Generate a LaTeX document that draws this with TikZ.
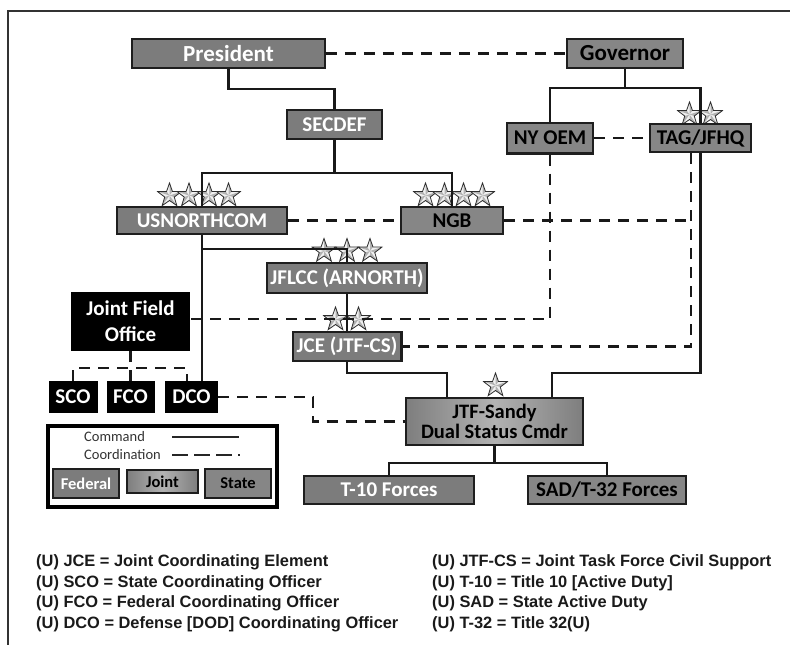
\documentclass[tikz,border=0pt]{standalone}
\usepackage{fontspec}
\setmainfont{Carlito}
\newfontfamily\lsans{Liberation Sans}
\definecolor{bline}{HTML}{1E1E1E}
\definecolor{fedg}{HTML}{7C7C7C}
\definecolor{stg}{HTML}{868686}
\definecolor{jlight}{HTML}{B2B2B2}
\definecolor{jdark}{HTML}{7E7E7E}
\definecolor{txt}{HTML}{1A1A1A}
\tikzset{
  basebox/.style={draw=bline, line width=2.4pt, inner sep=0pt, align=center,
    font=\bfseries\fontsize{21}{20}\selectfont},
  sz/.style 2 args={minimum width=#1pt, minimum height=#2pt},
  fedbox/.style={basebox, fill=fedg, text=white},
  statebox/.style={basebox, fill=stg, text=black},
  jointbox/.style={basebox, left color=jdark, right color=jdark, middle color=jlight, text=black},
  blackbox/.style={basebox, draw=black, fill=black, text=white},
  cmd/.style={line width=2.6pt, color=black!90},
  crd/.style={line width=2.8pt, color=black!90, dash pattern=on 11pt off 8pt},
  legtext/.style={anchor=west, inner sep=0pt, text=black!80, font=\fontsize{14.5}{15}\selectfont},
  legbox/.style={line width=2pt, font=\bfseries\fontsize{16.5}{17}\selectfont},
  note/.style={anchor=base west, inner sep=0pt, text=txt, font=\lsans\bfseries\fontsize{16.4}{18}\selectfont},
  pstar/.pic={
    \fill[gray!12] (-90:12.5) -- (-54:5) -- (-18:12.5) -- (18:5) -- (54:12.5) -- (90:5)
      -- (126:12.5) -- (162:5) -- (198:12.5) -- (234:5) -- cycle;
    \foreach \a in {-90,-18,54,126,198}
      \fill[gray!60] (0,0) -- (\a:12.5) -- ({\a+36}:5) -- cycle;
    \draw[gray!35!black, line width=0.8pt, line join=miter] (-90:12.5) -- (-54:5) -- (-18:12.5)
      -- (18:5) -- (54:12.5) -- (90:5) -- (126:12.5) -- (162:5) -- (198:12.5) -- (234:5) -- cycle;
  }
}
\begin{document}
\begin{tikzpicture}[x=1pt,y=-1pt]
\useasboundingbox (0,0) rectangle (790,645);
\fill[white] (0,0) rectangle (790,645);
% frame
\draw[line width=1.6pt, black!80] (8,645) -- (8,11) -- (790,11);

% stars
\foreach \x in {169.5,189,209,228.5} \pic at (\x,195.5) {pstar};
\foreach \x in {425.5,444.5,463.5,482.5} \pic at (\x,195.5) {pstar};
\foreach \x in {689.5,710.5} \pic at (\x,114.5) {pstar};
\foreach \x in {324,347,370} \pic at (\x,251) {pstar};
\foreach \x in {335.5,358.5} \pic at (\x,319.5) {pstar};
\pic at (495.5,385.5) {pstar};

% boxes
\node[fedbox, sz={192.5}{28.5}, font=\bfseries\fontsize{23}{23}\selectfont] (pres) at (228.5,53.5) {President};
\node[statebox, sz={115.6}{28.5}, font=\bfseries\fontsize{23}{23}\selectfont] (gov) at (625,53.5) {Governor};
\node[fedbox, sz={94.6}{28.6}] (secdef) at (334.5,124.5) {SECDEF};
\node[statebox, sz={85.6}{30.6}] (nyoem) at (550,138) {NY OEM};
\node[statebox, sz={100.6}{27.6}] (tag) at (700.5,138) {TAG/JFHQ};
\node[fedbox, sz={169.6}{26.6}] (usnc) at (202,220.5) {USNORTHCOM};
\node[statebox, sz={101.6}{26.6}] (ngb) at (452,220.5) {NGB};
\node[fedbox, sz={159.6}{29.6}] (jflcc) at (347,278) {JFLCC (ARNORTH)};
\node[fedbox, sz={108.6}{28.6}] (jce) at (347,346.5) {JCE (JTF-CS)};
\node[blackbox, sz={116.6}{56.6}, font=\bfseries\fontsize{21}{26}\selectfont] (jfo) at (130.5,321.5) {Joint Field\\Office};
\node[blackbox, sz={46.6}{29.6}] (sco) at (73,397) {SCO};
\node[blackbox, sz={45.6}{29.6}] (fco) at (130.5,397) {FCO};
\node[blackbox, sz={50.6}{29.6}] (dco) at (191.5,397) {DCO};
\node[jointbox, sz={176.6}{46.6}, font=\bfseries\fontsize{20.5}{20.5}\selectfont] (jtf) at (494.5,421.5) {JTF-Sandy\\Dual Status Cmdr};
\node[fedbox, sz={169.6}{27.6}] (t10) at (389,490) {T-10 Forces};
\node[statebox, sz={157.6}{27.6}] (sad) at (607,490) {SAD/T-32 Forces};

% legend
\node[draw=black, line width=3.6pt, inner sep=0pt, minimum width=229.4pt, minimum height=81.4pt] (leg) at (162.5,466.5) {};
\node[legtext] (lcmd) at (84,437) {Command};
\node[legtext] (lcrd) at (84,455) {Coordination};
\coordinate (lc1) at (172,437); \coordinate (lc2) at (239,437);
\coordinate (ld1) at (172,455); \coordinate (ld2) at (240,455);
\draw[line width=2.2pt, black!85] (lc1) -- (lc2);
\draw[line width=2.6pt, black!85, dash pattern=on 16pt off 6pt] (ld1) -- (ld2);
\node[fedbox, legbox, sz={65.6}{28.6}] (lfed) at (86,483.5) {Federal};
\node[jointbox, legbox, sz={70.6}{22.6}] (ljoint) at (162.5,481.5) {Joint};
\node[statebox, legbox, sz={65.6}{28.6}] (lstate) at (238,483.5) {State};

% junction coordinates
\coordinate (yP) at (0,89);
\coordinate (yS) at (0,173);
\coordinate (yG) at (0,88);
\coordinate (yU) at (0,249);
\coordinate (yJ) at (0,373);
\coordinate (yF) at (0,463);
\coordinate (yO) at (0,319);
\coordinate (yB) at (0,368);
\coordinate (xJ) at (447,0);
\coordinate (xT) at (552,0);
\coordinate (xD) at (691,0);
\coordinate (xC) at (187,0);
\coordinate (xE) at (313,0);

% command lines
\draw[cmd] (pres.south) -- (pres.south |- yP) -| (secdef.north);
\draw[cmd] (secdef.south) -- (secdef.south |- yS);
\draw[cmd] (usnc.north) -- (usnc.north |- yS) -- (ngb.north |- yS) -- (ngb.north);
\draw[cmd] (gov.south) -- (gov.south |- yG);
\draw[cmd] (nyoem.north) -- (nyoem.north |- yG) -- (tag.north |- yG) -- (tag.north);
\draw[cmd] (usnc.south) -- (usnc.south |- dco.north);
\draw[cmd] (usnc.south |- yU) -- (jflcc.north |- yU) -- (jflcc.north);
\draw[cmd] (jflcc.south) -- (jce.north);
\draw[cmd] (jce.south) -- (jce.south |- yJ) -- (xJ |- yJ) -- (xJ |- jtf.north);
\draw[cmd] (tag.south) -- (tag.south |- yJ) -- (xT |- yJ) -- (xT |- jtf.north);
\draw[cmd] (jtf.south) -- (jtf.south |- yF);
\draw[cmd] (t10.north) -- (t10.north |- yF) -- (sad.north |- yF) -- (sad.north);

% coordination lines
\draw[crd] (pres.east) -- (gov.west);
\draw[crd] (nyoem.east) -- (tag.west);
\draw[crd] (usnc.east) -- (ngb.west);
\draw[crd] (ngb.east) -- (xD |- ngb.east);
\draw[crd] (xD |- tag.south) -- (xD |- jce.east) -- (jce.east);
\draw[crd] (nyoem.south) -- (nyoem.south |- yO) -- (jfo.east |- yO);
\draw[crd] (jfo.south) -- (jfo.south |- yB);
\draw[crd] (sco.north) -- (sco.north |- yB) -- (xC |- yB) -- (xC |- dco.north);
\draw[crd] (fco.north) -- (fco.north |- yB);
\draw[crd] (dco.east) -- (xE |- dco.east) -- (xE |- jtf.west) -- (jtf.west);

% notes
\node[note] (n1) at (36,566) {(U) JCE = Joint Coordinating Element};
\node[note] (n2) at (36,587) {(U) SCO = State Coordinating Officer};
\node[note] (n3) at (36,607) {(U) FCO = Federal Coordinating Officer};
\node[note] (n4) at (36,628) {(U) DCO = Defense [DOD] Coordinating Officer};
\node[note] (n5) at (432,566) {(U) JTF-CS = Joint Task Force Civil Support};
\node[note] (n6) at (432,587) {(U) T-10 = Title 10 [Active Duty]};
\node[note] (n7) at (432,607) {(U) SAD = State Active Duty};
\node[note] (n8) at (432,628) {(U) T-32 = Title 32(U)};
\end{tikzpicture}
\end{document}
